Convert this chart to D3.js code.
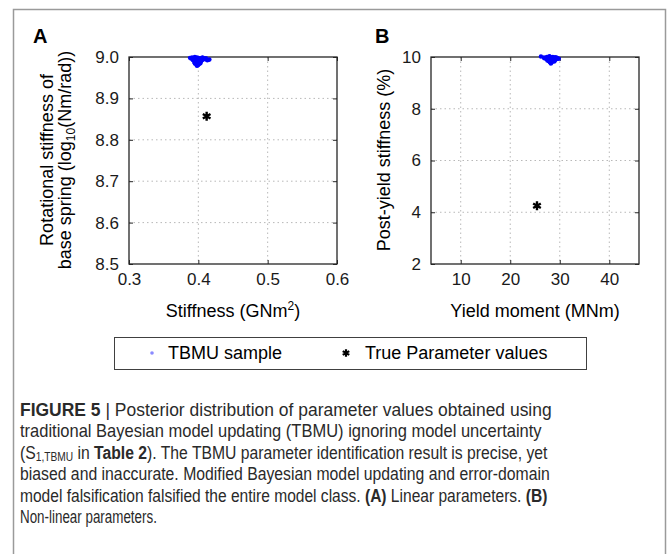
<!DOCTYPE html>
<html>
<head>
<meta charset="utf-8">
<script src="https://cdn.jsdelivr.net/npm/d3@7"></script>
<style>
  body { margin: 0; background: #fff; }
  svg { display: block; font-family: "Liberation Sans", Arial, sans-serif; }
</style>
</head>
<body>
<script>
// posterior samples (TBMU) and true values

// panel A: linear parameters
var tbmuStiffness = [0.388,0.391,0.393,0.395,0.397,0.398,0.400,0.402,0.404,0.406,0.408,0.410,0.412,0.414,0.416,0.392,0.396,0.399,0.401,0.403,0.405,0.407,0.409,0.394,0.398,0.402,0.395,0.397,0.399,0.401,0.403,0.396,0.400,0.398,0.404,0.411,0.413,0.390,0.406,0.397];
var tbmuRotational = [8.998,8.999,8.997,9.000,8.996,8.999,8.998,8.995,8.997,8.999,8.996,8.995,8.994,8.993,8.994,8.993,8.990,8.992,8.991,8.989,8.992,8.994,8.996,8.988,8.986,8.987,8.984,8.982,8.980,8.983,8.985,8.986,8.981,8.979,8.990,8.997,8.992,8.996,8.998,8.995];
var trueLinear = [0.412, 8.857];

// panel B: non-linear parameters
var tbmuYield = [26.2,26.8,27.1,27.4,27.7,28.0,28.3,28.6,28.9,29.2,29.5,29.8,27.3,27.6,27.9,28.2,28.5,28.8,29.1,27.5,27.8,28.1,28.4,28.7,29.0,28.0,28.3,28.6,27.7,28.2,28.9,29.4,26.9,28.5,27.9];
var tbmuPostYield = [10.02,9.98,9.96,10.00,9.99,10.01,9.97,10.00,9.98,9.99,9.96,9.93,9.92,9.90,9.94,9.91,9.93,9.95,9.90,9.86,9.84,9.87,9.85,9.88,9.86,9.80,9.78,9.82,9.89,9.75,9.83,9.92,9.95,9.97,10.03];
var trueNonLinear = [25.4, 4.25];

// tick values
var ticksAx = [0.3, 0.4, 0.5, 0.6];
var ticksAy = [8.5, 8.6, 8.7, 8.8, 8.9, 9.0];
var ticksBx = [10, 20, 30, 40];
var ticksBy = [2, 4, 6, 8, 10];

var svgWidth = 669, svgHeight = 554;

var svg = d3.select("body")
  .append("svg")
  .attr("width", svgWidth)
  .attr("height", svgHeight);

// outer frame of the figure
svg.append("rect")
  .attr("x", 13.5).attr("y", 9.5)
  .attr("width", 652).attr("height", 600)
  .attr("fill", "none")
  .attr("stroke", "#9a9a9a")
  .attr("stroke-width", 1.5);

// draws one MATLAB-style panel and returns its scales
function drawPanel(opts) {
  var x = d3.scaleLinear().domain(opts.xDomain).range([opts.left, opts.right]);
  var y = d3.scaleLinear().domain(opts.yDomain).range([opts.bottom, opts.top]);
  var g = svg.append("g");

  // dotted grid
  g.selectAll(".vgrid")
    .data(opts.xTicks.filter(function(t){ return x(t) > opts.left + 1 && x(t) < opts.right - 1; }))
    .enter().append("line")
    .attr("x1", function(d){ return x(d); }).attr("x2", function(d){ return x(d); })
    .attr("y1", opts.top).attr("y2", opts.bottom)
    .attr("stroke", "#b8b8b8").attr("stroke-dasharray", "1.5,3");
  g.selectAll(".hgrid")
    .data(opts.yTicks.filter(function(t){ return y(t) > opts.top + 1 && y(t) < opts.bottom - 1; }))
    .enter().append("line")
    .attr("y1", function(d){ return y(d); }).attr("y2", function(d){ return y(d); })
    .attr("x1", opts.left).attr("x2", opts.right)
    .attr("stroke", "#b8b8b8").attr("stroke-dasharray", "1.5,3");

  // axes with inward ticks on all four sides
  g.append("g")
    .attr("transform", "translate(0," + opts.bottom + ")")
    .call(d3.axisBottom(x).tickValues(opts.xTicks).tickFormat(d3.format(opts.xFormat)).tickSizeInner(-4).tickSizeOuter(0).tickPadding(9));
  g.append("g")
    .attr("transform", "translate(" + opts.left + ",0)")
    .call(d3.axisLeft(y).tickValues(opts.yTicks).tickFormat(d3.format(opts.yFormat)).tickSizeInner(-4).tickSizeOuter(0).tickPadding(10));
  g.append("g")
    .attr("transform", "translate(0," + opts.top + ")")
    .call(d3.axisTop(x).tickValues(opts.xTicks).tickFormat("").tickSizeInner(-4).tickSizeOuter(0));
  g.append("g")
    .attr("transform", "translate(" + opts.right + ",0)")
    .call(d3.axisRight(y).tickValues(opts.yTicks).tickFormat("").tickSizeInner(-4).tickSizeOuter(0));

  g.selectAll(".domain").remove();
  g.selectAll(".tick line").attr("stroke", "#262626");
  g.selectAll(".tick text")
    .attr("fill", "#1a1a1a")
    .style("font-size", "17px")
    .style("font-family", "'Liberation Sans', Arial, sans-serif");

  // box
  g.append("rect")
    .attr("x", opts.left).attr("y", opts.top)
    .attr("width", opts.right - opts.left).attr("height", opts.bottom - opts.top)
    .attr("fill", "none").attr("stroke", "#262626").attr("stroke-width", 1.3);

  // samples
  g.selectAll(".sample")
    .data(opts.samples)
    .enter().append("circle")
    .attr("cx", function(d){ return x(d[0]); })
    .attr("cy", function(d){ return y(d[1]); })
    .attr("r", 2.2)
    .attr("fill", "#0000ff");

  // true value
  g.append("path")
    .attr("d", d3.symbol().type(d3.symbolAsterisk).size(55)())
    .attr("transform", "translate(" + x(opts.truth[0]) + "," + y(opts.truth[1]) + ")")
    .attr("fill", "none").attr("stroke", "#000").attr("stroke-width", 2.4);

  // panel letter
  svg.append("text")
    .attr("x", opts.letterX).attr("y", 43)
    .style("font-size", "20px").style("font-weight", "bold")
    .text(opts.letter);

  return { x: x, y: y, g: g };
}

var samplesA = tbmuStiffness.map(function(v, i){ return [v, tbmuRotational[i]]; });
var samplesB = tbmuYield.map(function(v, i){ return [v, tbmuPostYield[i]]; });

drawPanel({
  left: 129, right: 337, top: 57, bottom: 264,
  xDomain: [0.3, 0.6], yDomain: [8.5, 9.0],
  xTicks: ticksAx, yTicks: ticksAy, xFormat: ".1f", yFormat: ".1f",
  samples: samplesA, truth: trueLinear, letter: "A", letterX: 33
});

drawPanel({
  left: 431, right: 639, top: 57, bottom: 264,
  xDomain: [4, 46], yDomain: [2, 10],
  xTicks: ticksBx, yTicks: ticksBy, xFormat: "d", yFormat: "d",
  samples: samplesB, truth: trueNonLinear, letter: "B", letterX: 375
});

// axis labels
svg.append("text")
  .attr("x", 233).attr("y", 317)
  .attr("text-anchor", "middle")
  .style("font-size", "18px")
  .html('Stiffness (GNm<tspan dy="-7" font-size="12px">2</tspan><tspan dy="7">)</tspan>');

svg.append("text")
  .attr("x", 535).attr("y", 317)
  .attr("text-anchor", "middle")
  .style("font-size", "18px")
  .text("Yield moment (MNm)");

svg.append("text")
  .attr("transform", "translate(53,160) rotate(-90)")
  .attr("text-anchor", "middle")
  .style("font-size", "18px")
  .text("Rotational stiffness of");

svg.append("text")
  .attr("transform", "translate(71,160) rotate(-90)")
  .attr("text-anchor", "middle")
  .style("font-size", "18px")
  .html('base spring (log<tspan dy="4" font-size="12px">10</tspan><tspan dy="-4">(Nm/rad))</tspan>');

svg.append("text")
  .attr("transform", "translate(390,160) rotate(-90)")
  .attr("text-anchor", "middle")
  .style("font-size", "18px")
  .text("Post-yield stiffness (%)");

// legend
var legend = svg.append("g").attr("class", "legend");
legend.append("rect")
  .attr("x", 114.5).attr("y", 337.5)
  .attr("width", 472).attr("height", 32)
  .attr("fill", "none").attr("stroke", "#404040").attr("stroke-width", 1);
legend.append("circle")
  .attr("cx", 152).attr("cy", 353)
  .attr("r", 1.8).attr("fill", "#8a8aff");
legend.append("text")
  .attr("x", 168).attr("y", 359)
  .style("font-size", "18px")
  .text("TBMU sample");
legend.append("path")
  .attr("d", d3.symbol().type(d3.symbolAsterisk).size(40)())
  .attr("transform", "translate(346,353)")
  .attr("fill", "none").attr("stroke", "#000").attr("stroke-width", 2.2);
legend.append("text")
  .attr("x", 365).attr("y", 359)
  .style("font-size", "18px")
  .text("True Parameter values");

// caption: each line is squeezed horizontally to the width it has in the figure
var captionLines = [
  { w: 532, html: '<tspan font-weight="bold">FIGURE 5</tspan> | Posterior distribution of parameter values obtained using' },
  { w: 522, html: 'traditional Bayesian model updating (TBMU) ignoring model uncertainty' },
  { w: 528, html: '(S<tspan dy="2.5" font-size="12px">1,TBMU</tspan><tspan dy="-2.5"> in </tspan><tspan font-weight="bold">Table 2</tspan>). The TBMU parameter identification result is precise, yet' },
  { w: 530, html: 'biased and inaccurate. Modified Bayesian model updating and error-domain' },
  { w: 528, html: 'model falsification falsified the entire model class. <tspan font-weight="bold">(A)</tspan> Linear parameters. <tspan font-weight="bold">(B)</tspan>' },
  { w: 137, html: 'Non-linear parameters.' }
];

svg.append("g").attr("class", "caption")
  .selectAll("text")
  .data(captionLines)
  .enter().append("text")
  .attr("fill", "#2a2a2a")
  .style("font-size", "18.5px")
  .html(function(d){ return d.html; })
  .each(function(d, i){
    var natural = this.getComputedTextLength();
    var sx = d.w / natural;
    d3.select(this).attr("transform",
      "translate(20," + (416 + i * 21.4) + ") scale(" + sx + ",1)");
  });
</script>
</body>
</html>
